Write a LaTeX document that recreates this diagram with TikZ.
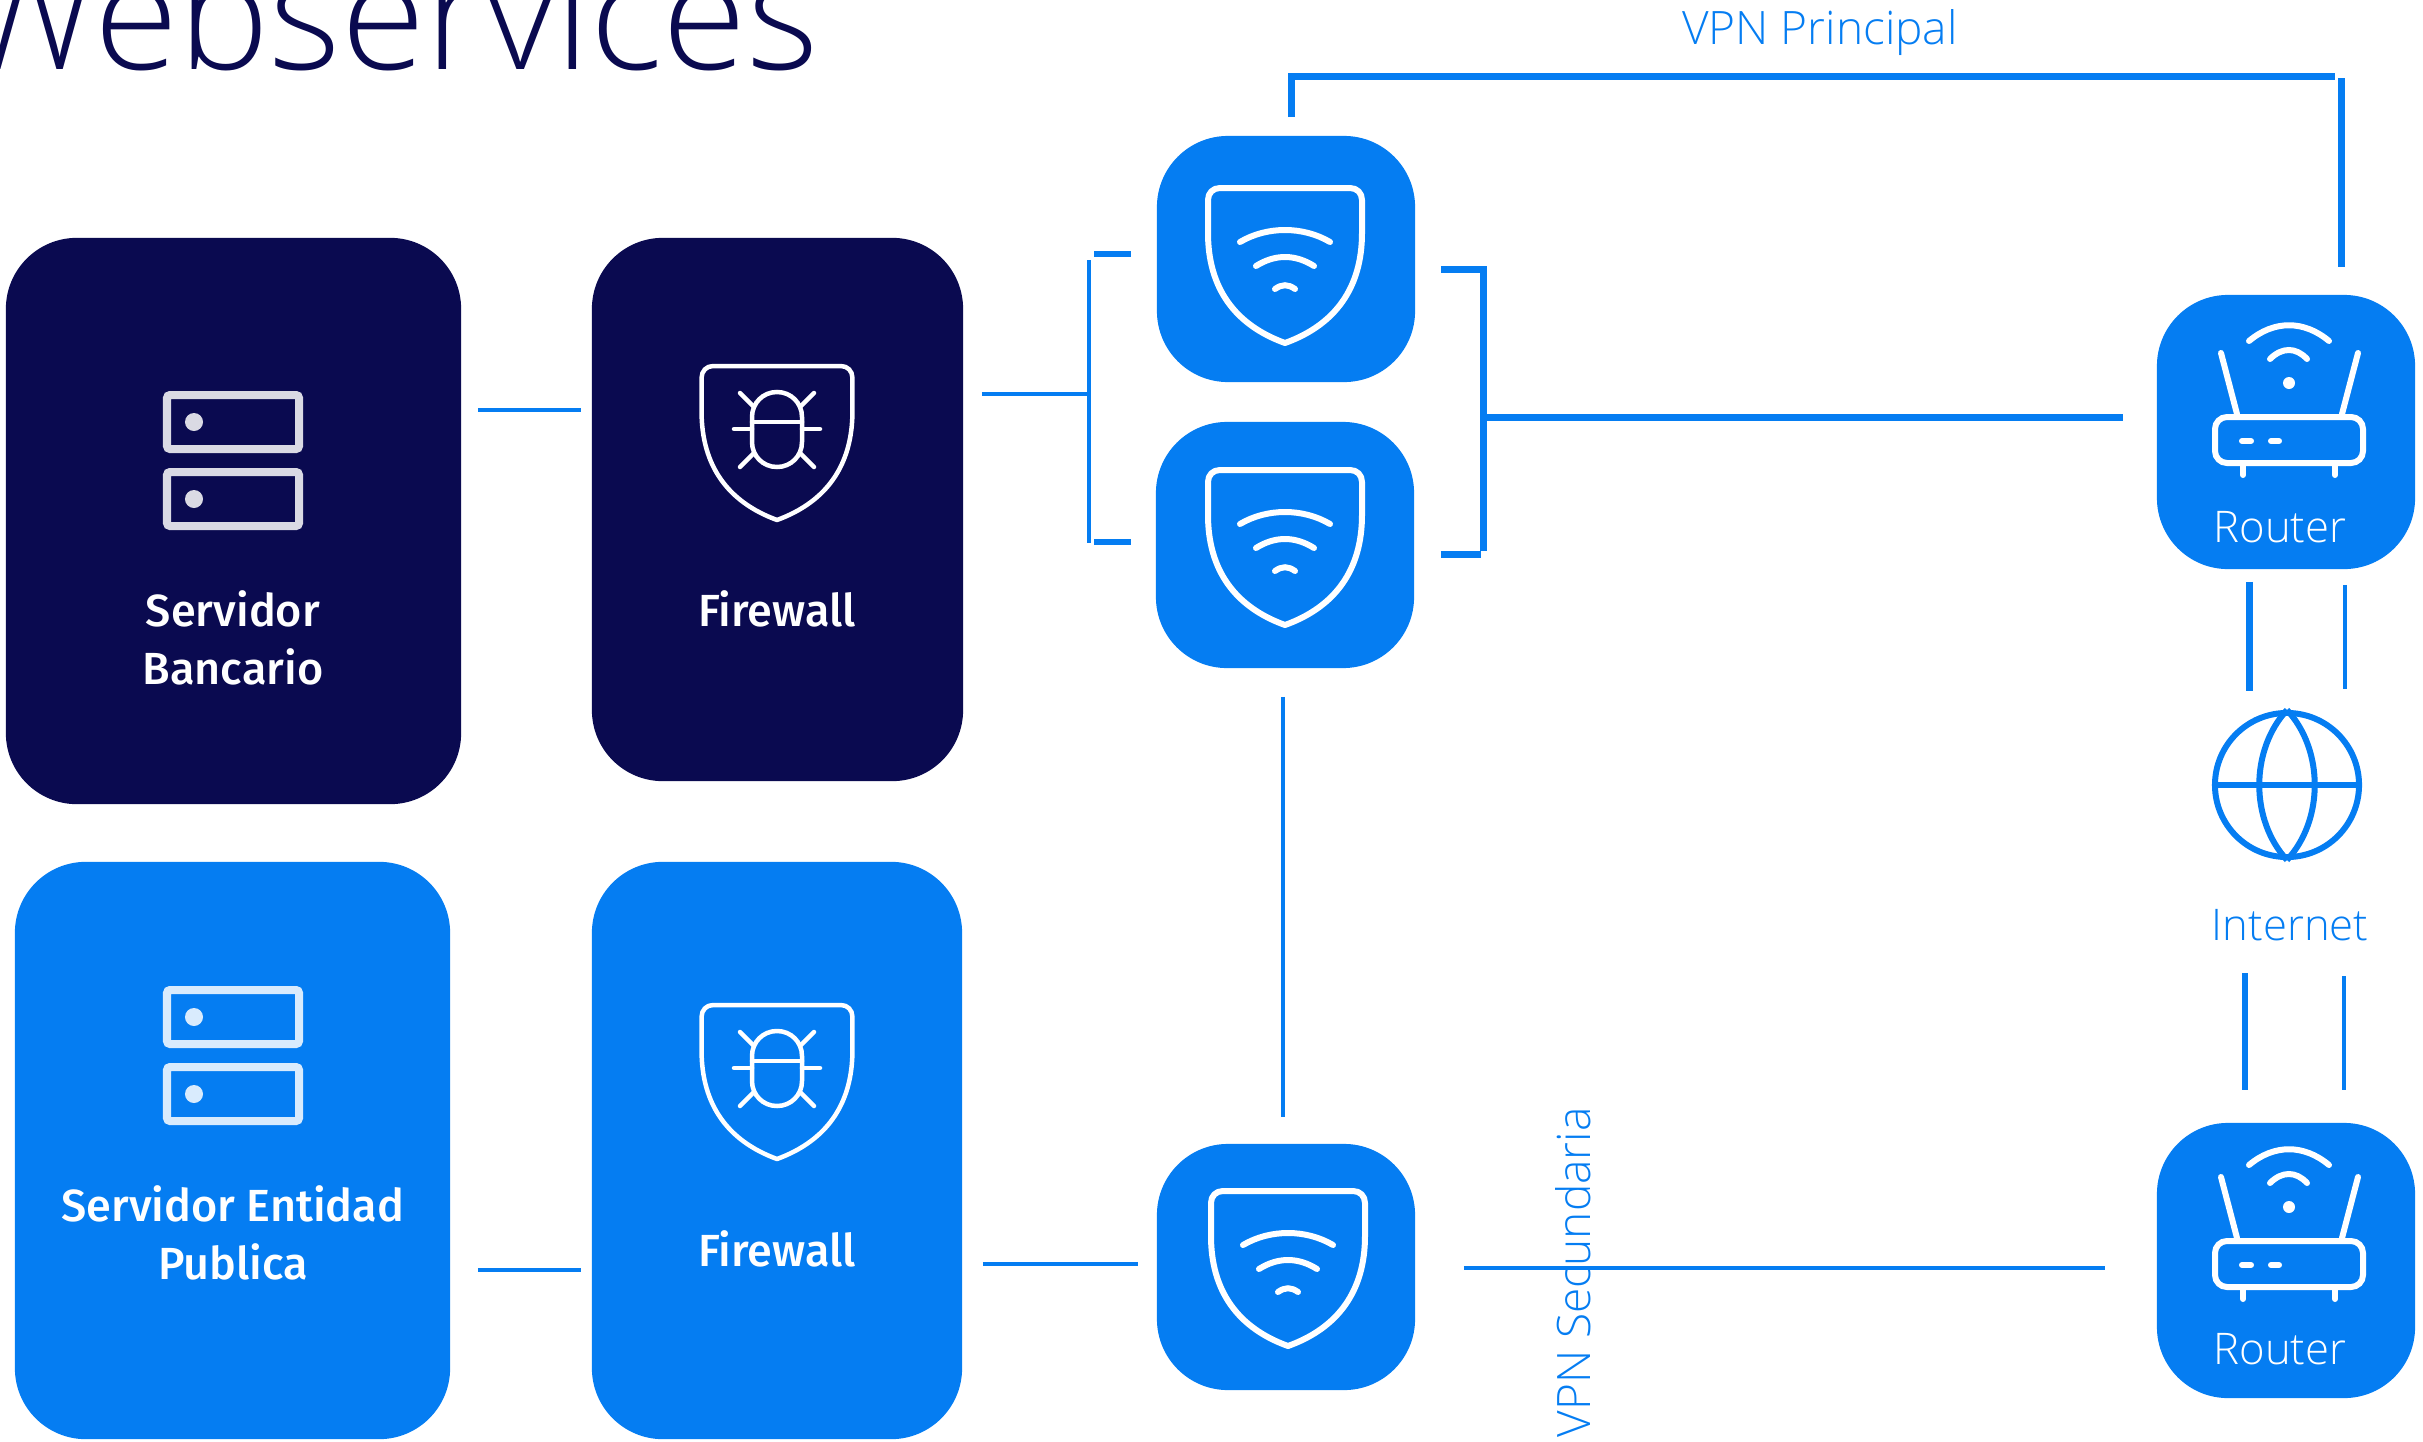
\documentclass[tikz,border=0pt]{standalone}
\usepackage{fontspec}
\setmainfont{Open Sans}
\newfontfamily\lightfont{Open Sans Light}
\newfontfamily\labelfont{Fira Sans Medium}
\definecolor{bluey}{HTML}{057DF2}
\definecolor{navy}{HTML}{0A0A50}
\tikzset{
    darkbox/.style={fill=navy,rounded corners=0.71cm,inner sep=0pt},
    bluebox/.style={fill=bluey,rounded corners=0.71cm,inner sep=0pt},
    thinlink/.style={draw=bluey,line width=0.045cm},
    midlink/.style={draw=bluey,line width=0.055cm},
    thicklink/.style={draw=bluey,line width=0.07cm},
    whitelabel/.style={text=white,font=\labelfont\fontsize{12.8}{15}\selectfont,align=center,inner sep=0pt},
    routerlabel/.style={text=white,font=\lightfont\fontsize{12.4}{15}\selectfont,inner sep=0pt},
    bluelabel/.style={text=bluey,font=\lightfont\fontsize{12.4}{15}\selectfont,inner sep=0pt},
    vpnlabel/.style={text=bluey,font=\lightfont\fontsize{13.1}{15}\selectfont,inner sep=0pt},
    pics/serverstack/.style={code={
        \draw[white,draw opacity=.85,line width=0.08cm,rounded corners=0.03cm] (-66,4) rectangle (66,58);
        \draw[white,draw opacity=.85,line width=0.08cm,rounded corners=0.03cm] (-66,81) rectangle (66,135);
        \fill[white,fill opacity=.85] (-39,31) circle (0.09cm);
        \fill[white,fill opacity=.85] (-39,108) circle (0.09cm);
    }},
    pics/shieldbug/.style={code={
        \draw[white,line width=0.045cm,line join=round,xscale=.98] (0,154) .. controls (-50,136) and (-77,100) .. (-77,45) -- (-77,12) .. controls (-77,5) and (-72,0) .. (-65,0) -- (65,0) .. controls (72,0) and (77,5) .. (77,12) -- (77,45) .. controls (77,100) and (50,136) .. (0,154) -- cycle;
        \draw[white,line width=0.045cm,line cap=round] (-25,51) .. controls (-25,37) and (-14,26) .. (0,26) .. controls (14,26) and (25,37) .. (25,51) -- (25,76) .. controls (25,90) and (14,101) .. (0,101) .. controls (-14,101) and (-25,90) .. (-25,76) -- cycle;
        \draw[white,line width=0.045cm,line cap=round] (-25,56) -- (25,56);
        \draw[white,line width=0.045cm,line cap=round] (-43,63) -- (-25,63);
        \draw[white,line width=0.045cm,line cap=round] (25,63) -- (43,63);
        \draw[white,line width=0.045cm,line cap=round] (-37,27) -- (-23,41);
        \draw[white,line width=0.045cm,line cap=round] (37,27) -- (23,41);
        \draw[white,line width=0.045cm,line cap=round] (-37,101) -- (-23,87);
        \draw[white,line width=0.045cm,line cap=round] (37,101) -- (23,87);
    }},
    pics/shieldwifi/.style={code={
        \draw[white,line width=0.06cm,line join=round] (0,155) .. controls (-50,137) and (-77,100) .. (-77,45) -- (-77,12) .. controls (-77,5) and (-72,0) .. (-65,0) -- (65,0) .. controls (72,0) and (77,5) .. (77,12) -- (77,45) .. controls (77,100) and (50,137) .. (0,155) -- cycle;
        \draw[white,line width=0.06cm,line cap=round] (-45,54) .. controls (-18,38) and (18,38) .. (45,54);
        \draw[white,line width=0.06cm,line cap=round] (-29,78) .. controls (-10,66) and (10,66) .. (29,78);
        \draw[white,line width=0.06cm,line cap=round] (-10,101) .. controls (-3,96) and (3,96) .. (10,101);
    }},
    pics/routerbox/.style={code={
        \draw[white,line width=0.06cm,rounded corners=0.12cm] (-74,122) rectangle (74,168);
        \draw[white,line width=0.06cm,line cap=round] (-68,58) -- (-52,119);
        \draw[white,line width=0.06cm,line cap=round] (69,58) -- (53,119);
        \draw[white,line width=0.06cm,line cap=round] (-46,168) -- (-46,180);
        \draw[white,line width=0.06cm,line cap=round] (46,168) -- (46,180);
        \draw[white,line width=0.06cm,line cap=round] (-47,146) -- (-38,146);
        \draw[white,line width=0.06cm,line cap=round] (-18,146) -- (-10,146);
        \draw[white,line width=0.06cm,line cap=round] (-40,46) .. controls (-15,25) and (15,25) .. (40,46);
        \draw[white,line width=0.06cm,line cap=round] (-19,64) .. controls (-7,52) and (7,52) .. (18,64);
        \fill[white] (0,88) circle (0.06cm);
    }},
}
\begin{document}
\begin{tikzpicture}[x=0.01cm,y=-0.01cm]

        % 固定画面大小
        \useasboundingbox (0,0) rectangle (2423,1442);

        % 标题
        \node (title) [anchor=base west,inner sep=0pt,text=navy,font=\lightfont\fontsize{43.6}{52}\selectfont] at (-40,69) {Webservices};

        % 左侧两列方块
        \node (srvA) [darkbox,minimum width=4.55cm,minimum height=5.66cm] at (233.5,521) {};
        \node (fwA) [darkbox,minimum width=3.71cm,minimum height=5.43cm] at (777.5,509.5) {};
        \node (srvB) [bluebox,minimum width=4.35cm,minimum height=5.77cm] at (232.5,1150.5) {};
        \node (fwB) [bluebox,minimum width=3.70cm,minimum height=5.77cm] at (777,1150.5) {};

        % VPN 方块和路由器方块
        \node (vpnA) [bluebox,minimum width=2.58cm,minimum height=2.46cm] at (1286,259) {};
        \node (vpnB) [bluebox,minimum width=2.58cm,minimum height=2.46cm] at (1285,545) {};
        \node (vpnC) [bluebox,minimum width=2.58cm,minimum height=2.46cm] at (1286,1267) {};
        \node (routerA) [bluebox,minimum width=2.58cm,minimum height=2.74cm] at (2286,432) {};
        \node (routerB) [bluebox,minimum width=2.58cm,minimum height=2.75cm] at (2286,1260.5) {};

        % 图标
        \pic at (233,391) {serverstack};
        \pic at (233,986) {serverstack};
        \pic at (777,366) {shieldbug};
        \pic at (777,1005) {shieldbug};
        \pic at (1285,188) {shieldwifi};
        \pic at (1285,470) {shieldwifi};
        \pic at (1288,1191) {shieldwifi};
        \pic at (2289,295) {routerbox};
        \pic at (2289,1119) {routerbox};

        % 地球
        \node (globe) [circle,draw=bluey,line width=0.06cm,minimum size=1.44cm,inner sep=0pt] at (2287,785) {};
        \draw[bluey,line width=0.06cm] (globe.north) .. controls (2250,750) and (2250,820) .. (globe.south);
        \draw[bluey,line width=0.06cm] (globe.north) .. controls (2324,750) and (2324,820) .. (globe.south);
        \draw[bluey,line width=0.06cm] (globe.west) -- (globe.east);

        % 方块里的文字
        \node (srvAtext) [whitelabel] at (233,638) {Servidor\\[0.06cm]Bancario};
        \node (fwAtext) [whitelabel] at (777,609) {Firewall};
        \node (srvBtext) [whitelabel] at (233,1233) {Servidor Entidad\\[0.06cm]Publica};
        \node (fwBtext) [whitelabel] at (777,1249) {Firewall};
        \node (routerAtext) [routerlabel] at (2280,527) {Router};
        \node (routerBtext) [routerlabel] at (2280,1349) {Router};

        % 蓝色文字
        \node (inettext) [bluelabel] at (2290,925) {Internet};
        \node (mainvpn) [vpnlabel] at (1820,33) {VPN Principal};
        \node (backupvpn) [vpnlabel,rotate=90,anchor=west] at (1573,1438) {VPN Secundaria};

        % 连接点
        \coordinate (jointL) at (1089,394);
        \coordinate (jointR) at (1483,417);
        \coordinate (topL) at (1291,76);
        \coordinate (topR) at (2341,78);
        \coordinate (midV) at (1283,900);

        % 第一行和第三行的细线
        \draw[thinlink,shorten <=0.16cm,shorten >=0.10cm] (srvA.east |- 0,410) -- (fwA.west |- 0,410);
        \draw[thinlink,shorten <=0.27cm,shorten >=0.10cm] (srvB.east |- 0,1270) -- (fwB.west |- 0,1270);
        \draw[thinlink,shorten <=0.18cm] (fwA.east |- jointL) -- (jointL);
        \draw[thinlink,shorten <=0.20cm,shorten >=0.18cm] (fwB.east |- 0,1264) -- (vpnC.west |- 0,1264);
        \draw[thinlink,shorten <=0.48cm,shorten >=0.51cm] (vpnC.east |- 0,1268) -- (routerB.west |- 0,1268);

        % 左括号
        \draw[thinlink] (jointL |- 0,260) -- (jointL |- 0,543);
        \draw[midlink,shorten <=0.05cm,shorten >=0.25cm] (jointL |- 0,254) -- (vpnA.west |- 0,254);
        \draw[midlink,shorten <=0.05cm,shorten >=0.24cm] (jointL |- 0,542) -- (vpnB.west |- 0,542);

        % 右括号
        \draw[thicklink,shorten <=0.25cm] (vpnA.east |- 0,269) -- (jointR |- 0,269) -- (jointR |- 0,551);
        \draw[thicklink,shorten <=0.26cm,shorten >=0.02cm] (vpnB.east |- 0,554) -- (jointR |- 0,554);
        \draw[thicklink,shorten >=0.33cm] (jointR) -- (routerA.west |- jointR);

        % VPN Principal 的线
        \draw[thicklink,shorten <=0.18cm,shorten >=0.06cm] (topL |- vpnA.north) -- (topL) -- (topR |- topL);
        \draw[thicklink,shorten >=0.27cm] (topR) -- (topR |- routerA.north);

        % 中间的竖线
        \draw[thinlink,shorten <=0.28cm,shorten >=0.26cm] (midV |- vpnB.south) -- (midV |- vpnC.north);

        % 路由器和地球之间
        \draw[thicklink,shorten <=0.12cm,shorten >=0.19cm] (routerA.south -| 2249,0) -- (globe.north -| 2249,0);
        \draw[thinlink,shorten <=0.15cm,shorten >=0.21cm] (routerA.south -| 2345,0) -- (globe.north -| 2345,0);
        \draw[midlink,line width=0.065cm,shorten <=1.13cm,shorten >=0.32cm] (globe.south -| 2245,0) -- (routerB.north -| 2245,0);
        \draw[thinlink,shorten <=1.16cm,shorten >=0.32cm] (globe.south -| 2344,0) -- (routerB.north -| 2344,0);

    \end{tikzpicture}
\end{document}
